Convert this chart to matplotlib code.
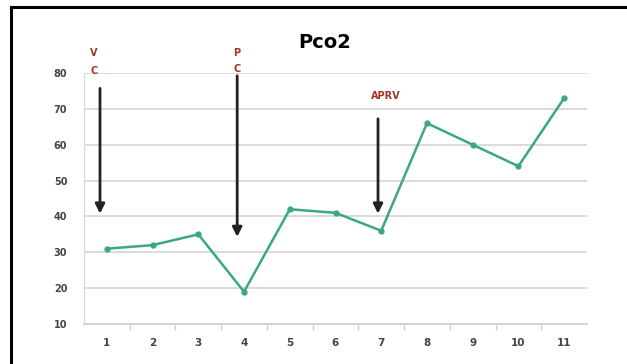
import numpy as np
import matplotlib.pyplot as plt
from matplotlib.patches import Rectangle

# data
days = [1, 2, 3, 4, 5, 6, 7, 8, 9, 10, 11]
pco2 = [31, 32, 35, 19, 42, 41, 36, 66, 60, 54, 73]
yticks = [10, 20, 30, 40, 50, 60, 70, 80]

# arrows: (x, y_start, y_end), labels
arrow_vc = (0.85, 76.5, 40)
arrow_pc = (3.85, 80, 33.5)
arrow_aprv = (6.93, 68, 40)

fig = plt.figure(figsize=(6.27, 3.64), dpi=100)
ax = fig.add_axes([84/627, 1-324/364, (587-84)/627, (324-73)/364])

line_col = '#3aa882'
red = '#a3332b'

ax.plot(days, pco2, color=line_col, lw=1.8, marker='o', ms=3.5, zorder=3)

ax.set_xlim(0.5, 11.5)
ax.set_ylim(10, 80)
ax.set_yticks(yticks)
ax.set_xticks(days)
ax.set_xticks(np.arange(1.5, 11.5, 1), minor=True)
ax.grid(axis='y', color='#d9d9d9', lw=1.3)
ax.set_axisbelow(True)
for s in ['top', 'right']:
    ax.spines[s].set_visible(False)
ax.spines['left'].set_color('#d9d9d9')
ax.spines['bottom'].set_color('#d0d0d0')
ax.spines['bottom'].set_linewidth(1.3)
ax.tick_params(axis='y', length=0, pad=12, labelsize=7, labelcolor='#444444')
ax.tick_params(axis='x', which='major', length=0, pad=10, labelsize=7.5, labelcolor='#444444')
ax.tick_params(axis='x', which='minor', length=4, color='#d0d0d0', width=1)
for lab in ax.get_xticklabels() + ax.get_yticklabels():
    lab.set_fontweight('bold')

for x, y0, y1 in [arrow_vc, arrow_pc, arrow_aprv]:
    ax.annotate('', xy=(x, y1), xytext=(x, y0),
                arrowprops=dict(arrowstyle='-|>', color='#222222', lw=2,
                                mutation_scale=14), annotation_clip=False)

ax.text(0.72, 85.5, 'V', color=red, fontsize=7, fontweight='bold', ha='center', va='center')
ax.text(0.72, 80.5, 'C', color=red, fontsize=7, fontweight='bold', ha='center', va='center')
ax.text(3.85, 85.5, 'P', color=red, fontsize=7, fontweight='bold', ha='center', va='center')
ax.text(3.85, 81, 'C', color=red, fontsize=7, fontweight='bold', ha='center', va='center', zorder=1)
ax.text(7.1, 73.5, 'APRV', color=red, fontsize=7, fontweight='bold', ha='center', va='center')

fig.text(325/627, 1-42/364, 'Pco2', fontsize=14, fontweight='bold', ha='center', va='center')

# black frame around the chart
fig.patches.append(Rectangle((11/627, -0.1), 1.2, 1.1 - 7/364, transform=fig.transFigure,
                             fill=False, edgecolor='black', lw=2.2))

fig.savefig('out.png', dpi=100)
